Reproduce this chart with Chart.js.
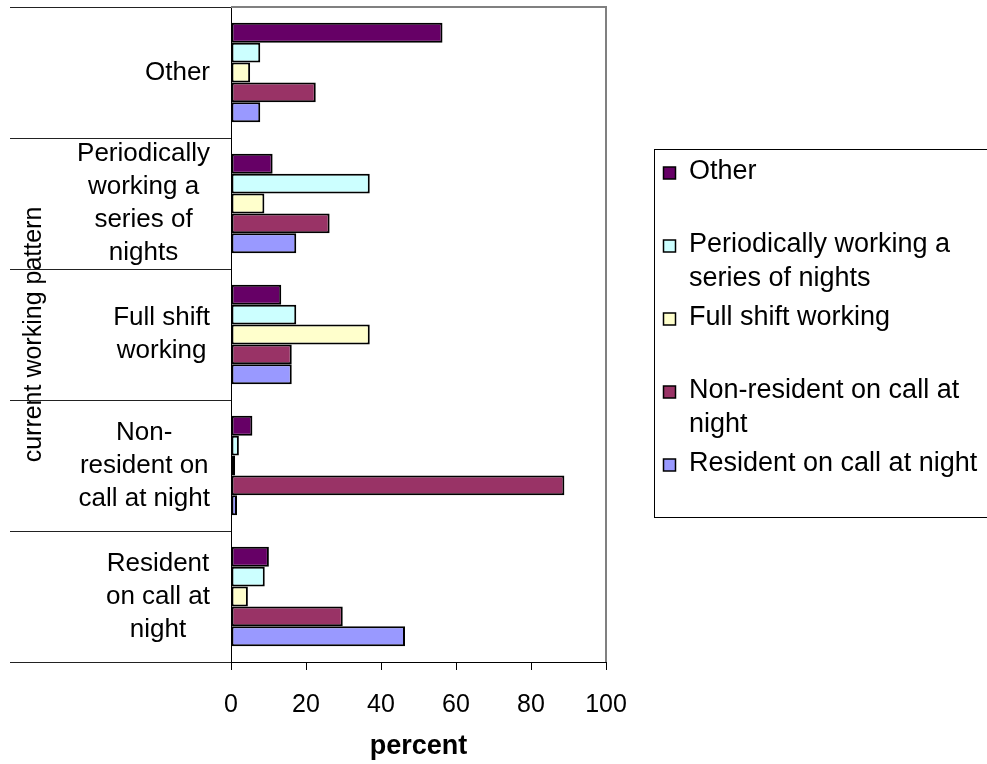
<!DOCTYPE html>
<html>
<head>
<meta charset="utf-8">
<script src="https://cdn.jsdelivr.net/npm/chart.js@4.4.1/dist/chart.umd.min.js"></script>
<style>
  html, body { margin: 0; padding: 0; background: #fff; }
  #wrap { width: 987px; height: 764px; position: relative; }
</style>
</head>
<body>
<div id="wrap"><canvas id="c" width="987" height="764"></canvas></div>
<script>
// Working patterns (y categories), wrapped the way they are printed beside the axis
const categoryLines = [
  ['Other'],
  ['Periodically', 'working a', 'series of', 'nights'],
  ['Full shift', 'working'],
  ['Non-', 'resident on', 'call at night'],
  ['Resident', 'on call at', 'night']
];
const categories = categoryLines.map(l => l.join(' ').replace('- ', '-'));

// Series names and their wrapped legend text
const seriesNames = [
  'Other',
  'Periodically working a series of nights',
  'Full shift working',
  'Non-resident on call at night',
  'Resident on call at night'
];
const legendLines = [
  ['Other'],
  ['Periodically working a', 'series of nights'],
  ['Full shift working'],
  ['Non-resident on call at', 'night'],
  ['Resident on call at night']
];
const seriesColors = ['#660066', '#CCFFFF', '#FFFFCC', '#993366', '#9999FF'];

// Percent values, one entry per category (same order as categories)
const otherVals       = [56.4, 11.1, 13.4,  5.7, 10.1];
const periodicVals    = [ 7.8, 37.0, 17.4,  2.1,  9.0];
const fullShiftVals   = [ 5.1,  8.9, 37.0,  1.1,  4.5];
const nonResidentVals = [22.6, 26.3, 16.2, 88.9, 29.8];
const residentVals    = [ 7.8, 17.4, 16.2,  1.6, 46.4];
const seriesValues = [otherVals, periodicVals, fullShiftVals, nonResidentVals, residentVals];

const xTicks = [0, 20, 40, 60, 80, 100];

const FONT = '"Liberation Sans", Arial, sans-serif';

// Draws the plot frame, category separators, wrapped category labels and the boxed legend
const decorations = {
  id: 'decorations',
  afterDraw(chart) {
    const { ctx, chartArea: a, scales: { y } } = chart;
    ctx.save();

    // grey top and right border of the plot area
    ctx.strokeStyle = '#808080';
    ctx.lineWidth = 2;
    ctx.beginPath();
    ctx.moveTo(a.left, a.top);
    ctx.lineTo(a.right, a.top);
    ctx.lineTo(a.right, a.bottom);
    ctx.stroke();

    // separators between the categories, reaching out under the labels
    const n = y.ticks.length;
    const half = (y.getPixelForTick(1) - y.getPixelForTick(0)) / 2;
    ctx.strokeStyle = '#222';
    ctx.lineWidth = 1;
    for (let i = 0; i <= n; i++) {
      const py = Math.round(i < n ? y.getPixelForTick(i) - half : y.getPixelForTick(n - 1) + half) + 0.5;
      ctx.beginPath();
      ctx.moveTo(10, py);
      ctx.lineTo(a.left, py);
      ctx.stroke();
    }

    // category labels: block right-aligned, lines centred inside the block
    ctx.fillStyle = '#000';
    ctx.font = '26px ' + FONT;
    ctx.textAlign = 'center';
    ctx.textBaseline = 'middle';
    const lh = 33;
    categoryLines.forEach((lines, i) => {
      const w = Math.max(...lines.map(t => ctx.measureText(t).width));
      const cx = 210 - w / 2;
      const cy = y.getPixelForTick(i);
      lines.forEach((t, j) => ctx.fillText(t, cx, cy + (j - (lines.length - 1) / 2) * lh));
    });

    // legend box
    ctx.strokeStyle = '#000';
    ctx.lineWidth = 1;
    ctx.strokeRect(654.5, 149.5, 340, 368);
    ctx.font = '27px ' + FONT;
    ctx.textAlign = 'left';
    chart.data.datasets.forEach((ds, i) => {
      const cy = 173 + i * 73;
      ctx.fillStyle = ds.backgroundColor;
      ctx.fillRect(663.5, cy - 6, 12, 12);
      ctx.lineWidth = 1.5;
      ctx.strokeStyle = '#000';
      ctx.strokeRect(663.5, cy - 6, 12, 12);
      ctx.fillStyle = '#000';
      legendLines[i].forEach((t, j) => ctx.fillText(t, 689, cy - 1 + j * 34));
    });

    ctx.restore();
  }
};

new Chart(document.getElementById('c'), {
  type: 'bar',
  data: {
    labels: categories,
    datasets: seriesNames.map((name, i) => ({
      label: name,
      data: seriesValues[i],
      backgroundColor: seriesColors[i],
      borderColor: '#000',
      borderWidth: 2,
      borderSkipped: false,
      categoryPercentage: 0.76,
      barPercentage: 1.0
    }))
  },
  options: {
    responsive: false,
    animation: false,
    indexAxis: 'y',
    events: [],
    layout: { padding: { top: 7, right: 381, left: 0, bottom: 0 } },
    plugins: {
      legend: { display: false },
      tooltip: { enabled: false }
    },
    scales: {
      x: {
        min: 0,
        max: 100,
        afterBuildTicks: s => { s.ticks = xTicks.map(v => ({ value: v })); },
        ticks: { font: { family: FONT, size: 25 }, color: '#000', padding: 20, maxRotation: 0 },
        grid: { drawOnChartArea: false, tickLength: 8, color: '#000', tickColor: '#000' },
        border: { color: '#000', width: 1 },
        title: {
          display: true, text: 'percent', color: '#000',
          font: { family: FONT, size: 27, weight: 'bold' },
          padding: { top: 4, bottom: 1 }
        },
        afterFit: s => { s.height = 102; }
      },
      y: {
        offset: true,
        grid: { display: false },
        border: { color: '#000', width: 1 },
        ticks: { display: false },
        title: {
          display: true, text: 'current working pattern', color: '#000',
          font: { family: FONT, size: 25 },
          padding: { top: 19, bottom: 0 }
        },
        afterFit: s => { s.width = 231; }
      }
    }
  },
  plugins: [decorations]
});
</script>
</body>
</html>
